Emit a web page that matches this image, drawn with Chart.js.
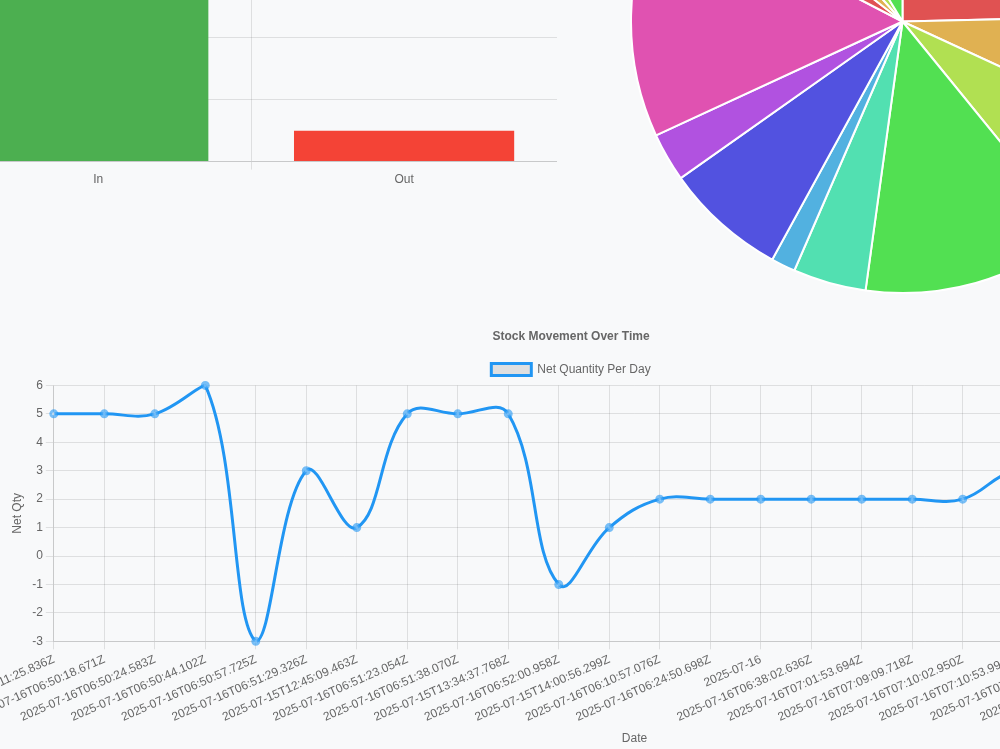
<!DOCTYPE html>
<html>
<head>
<meta charset="utf-8">
<title>Stock Dashboard</title>
<script src="https://cdn.jsdelivr.net/npm/chart.js@4.4.0/dist/chart.umd.min.js"></script>
<style>
  html, body { margin: 0; padding: 0; background: #f8f9fa; overflow: hidden; width: 1000px; height: 749px; }
  .box { position: absolute; }
  #barBox { left: -82px; top: -220px; width: 639px; height: 410px; }
  #pieBox { left: 630px; top: -251px; width: 545px; height: 545px; }
  #lineBox { left: -82px; top: 319px; width: 1306px; height: 431px; }
</style>
</head>
<body>
<div class="box" id="barBox"><canvas id="flowChart"></canvas></div>
<div class="box" id="pieBox"><canvas id="stockChart"></canvas></div>
<div class="box" id="lineBox"><canvas id="movementChart"></canvas></div>
<script>
// stock in / out totals
const flowLabels = ["In", "Out"];
const flowValues = [12, 1];

// stock per product (legend sits above the visible area)
const productLabels = [
  "Product 1", "Product 2", "Product 3", "Product 4", "Product 5", "Product 6", "Product 7",
  "Product 8", "Product 9", "Product 10", "Product 11", "Product 12", "Product 13",
];
const productStock = [17, 5, 5, 9, 3, 1, 5, 2, 10, 2, 2, 2, 6];

// net quantity per movement date
const movementDates = [
  "2025-07-16T06:11:25.836Z",
  "2025-07-16T06:50:18.671Z",
  "2025-07-16T06:50:24.583Z",
  "2025-07-16T06:50:44.102Z",
  "2025-07-16T06:50:57.725Z",
  "2025-07-16T06:51:29.326Z",
  "2025-07-15T12:45:09.463Z",
  "2025-07-16T06:51:23.054Z",
  "2025-07-16T06:51:38.070Z",
  "2025-07-15T13:34:37.768Z",
  "2025-07-16T06:52:00.958Z",
  "2025-07-15T14:00:56.299Z",
  "2025-07-16T06:10:57.076Z",
  "2025-07-16T06:24:50.698Z",
  "2025-07-16",
  "2025-07-16T06:38:02.636Z",
  "2025-07-16T07:01:53.694Z",
  "2025-07-16T07:09:09.718Z",
  "2025-07-16T07:10:02.950Z",
  "2025-07-16T07:10:53.994Z",
  "2025-07-16T07:11:40.215Z",
  "2025-07-16T07:12:18.402Z",
  "2025-07-16T07:13:05.117Z",
  "2025-07-16T07:14:31.860Z",
];
const netQty = [5, 5, 5, 6, -3, 3, 1, 5, 5, 5, -1, 1, 2, 2, 2, 2, 2, 2, 2, 3, 3, 2, 2, 3];

const sliceColors = productStock.map((_, i) => `hsl(${(i * 40) % 360}, 70%, 60%)`);

new Chart(document.getElementById("flowChart"), {
  type: "bar",
  data: {
    labels: flowLabels,
    datasets: [{
      label: "Stock Flow",
      data: flowValues,
      backgroundColor: ["#4caf50", "#f44336"],
    }],
  },
  options: {
    responsive: true,
    maintainAspectRatio: false,
    animation: false,
    plugins: { legend: { display: false } },
    scales: { y: { beginAtZero: true } },
  },
});

new Chart(document.getElementById("stockChart"), {
  type: "pie",
  data: {
    labels: productLabels,
    datasets: [{
      label: "Stock",
      data: productStock,
      backgroundColor: sliceColors,
    }],
  },
  options: {
    responsive: true,
    maintainAspectRatio: false,
    animation: false,
    plugins: { legend: { display: false } },
  },
});

new Chart(document.getElementById("movementChart"), {
  type: "line",
  data: {
    labels: movementDates,
    datasets: [{
      label: "Net Quantity Per Day",
      data: netQty,
      borderColor: "#2196f3",
      borderWidth: 3,
      pointBackgroundColor: "rgba(255,255,255,0.35)",
      pointBorderColor: "rgba(33,150,243,0.6)",
      tension: 0.4,
      fill: false,
    }],
  },
  options: {
    responsive: true,
    maintainAspectRatio: false,
    animation: false,
    plugins: {
      title: { display: true, text: "Stock Movement Over Time", font: { weight: "bold" } },
    },
    scales: {
      x: { title: { display: true, text: "Date" } },
      y: { title: { display: true, text: "Net Qty" } },
    },
  },
});
</script>
</body>
</html>
